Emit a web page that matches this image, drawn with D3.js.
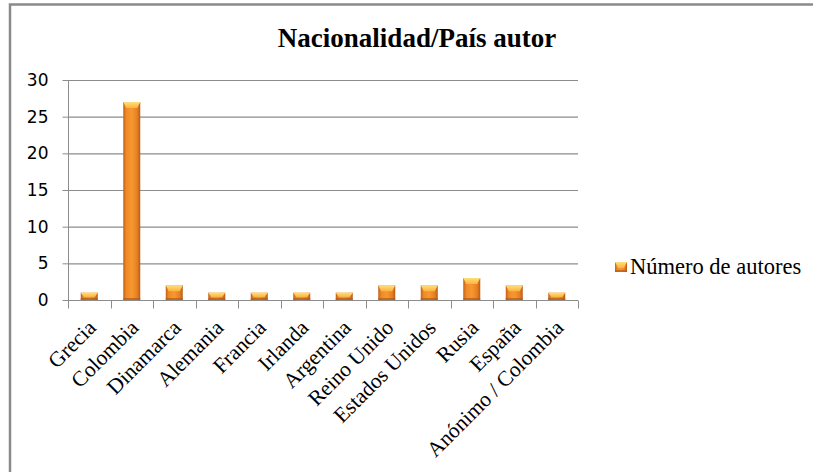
<!DOCTYPE html>
<html><head><meta charset="utf-8">
<script src="https://cdn.jsdelivr.net/npm/d3@7"></script>
<style>body{margin:0;background:#fff;}svg{display:block;}</style>
</head><body>
<script>
const title = "Nacionalidad/País autor";
const seriesName = "Número de autores";
const categories = ["Grecia","Colombia","Dinamarca","Alemania","Francia","Irlanda","Argentina","Reino Unido","Estados Unidos","Rusia","España","Anónimo / Colombia"];
const values = [1,27,2,1,1,1,1,2,2,3,2,1];
const yTicks = [0,5,10,15,20,25,30];

const W = 813, H = 472;
const svg = d3.select("body").append("svg").attr("width", W).attr("height", H);
const defs = svg.append("defs");
const g1 = defs.append("linearGradient").attr("id","barG").attr("x1","0").attr("x2","1").attr("y1","0").attr("y2","0");
g1.append("stop").attr("offset","0").attr("stop-color","#c2611b");
g1.append("stop").attr("offset","0.18").attr("stop-color","#ef8a26");
g1.append("stop").attr("offset","0.5").attr("stop-color","#f7982f");
g1.append("stop").attr("offset","0.82").attr("stop-color","#e67f22");
g1.append("stop").attr("offset","1").attr("stop-color","#b85a18");
const g2 = defs.append("linearGradient").attr("id","capG").attr("x1","0").attr("x2","0").attr("y1","0").attr("y2","1");
g2.append("stop").attr("offset","0").attr("stop-color","#ffe07a");
g2.append("stop").attr("offset","1").attr("stop-color","#fbb23e");

// frame
svg.append("rect").attr("x",10).attr("y",4.5).attr("width",W).attr("height",H)
  .attr("fill","none").attr("stroke","#8a8a8a").attr("stroke-width",2.5);

const x = d3.scaleBand().domain(categories).range([68,578]).paddingInner(0.6).paddingOuter(0.3);
const y = d3.scaleLinear().domain([0,30]).range([300,80]);

// gridlines
svg.append("g").selectAll("line").data(yTicks.filter(d=>d>0)).join("line")
  .attr("x1",68).attr("x2",578).attr("y1",d=>y(d)+0.5).attr("y2",d=>y(d)+0.5)
  .attr("stroke","#8c8c8c").attr("stroke-width",1.2);

// y axis
const ya = svg.append("g").attr("transform","translate(68.5,0)")
  .call(d3.axisLeft(y).tickValues(yTicks).tickSize(6).tickPadding(14));
ya.select(".domain").attr("stroke","#8c8c8c").attr("d","M0,80V300");
ya.selectAll(".tick line").attr("stroke","#8c8c8c");
ya.selectAll("text").attr("font-family","DejaVu Sans").attr("font-size","17px").attr("fill","#000");

// x axis
const step = (578-68)/categories.length;
const xa = svg.append("g").attr("transform","translate(0,300.5)");
xa.append("line").attr("x1",68).attr("x2",578).attr("stroke","#8c8c8c").attr("stroke-width",1.2);
xa.selectAll("line.tk").data(d3.range(categories.length+1)).join("line").attr("class","tk")
  .attr("x1",i=>Math.round(68+i*step)+0.5).attr("x2",i=>Math.round(68+i*step)+0.5)
  .attr("y1",0).attr("y2",8).attr("stroke","#8c8c8c");

svg.append("g").selectAll("text").data(categories).join("text")
  .attr("transform",d=>`translate(${x(d)+x.bandwidth()/2+8},329) rotate(-45)`)
  .attr("text-anchor","end")
  .attr("font-family","Liberation Serif").attr("font-size","21.5px").attr("fill","#000")
  .text(d=>d);

// bars
function drawBar(sel, bx, by, bw, bh){
  sel.append("rect").attr("x",bx).attr("y",by).attr("width",bw).attr("height",bh).attr("fill","url(#barG)");
  const ch = Math.min(6, bh*0.6);
  sel.append("path").attr("d",`M${bx},${by}L${bx+bw},${by}L${bx+bw-3},${by+ch}L${bx+3},${by+ch}Z`).attr("fill","url(#capG)");
  sel.append("rect").attr("x",bx).attr("y",by+bh-2).attr("width",bw).attr("height",2).attr("fill","#b25a18").attr("opacity",0.7);
}
const bars = svg.append("g");
categories.forEach((c,i)=>{
  const b = bars.append("g");
  drawBar(b, x(c), y(values[i]), x.bandwidth(), y(0)-y(values[i]));
});

// title
svg.append("text").attr("x",417).attr("y",47).attr("text-anchor","middle")
  .attr("font-family","Liberation Serif").attr("font-weight","bold").attr("font-size","27px")
  .attr("fill","#000").text(title);

// legend
const lg = svg.append("g");
drawBar(lg, 615, 262, 12, 10);
lg.append("text").attr("x",630).attr("y",274).attr("font-family","Liberation Serif")
  .attr("font-size","22.5px").attr("fill","#000").text(seriesName);
</script>
</body></html>
